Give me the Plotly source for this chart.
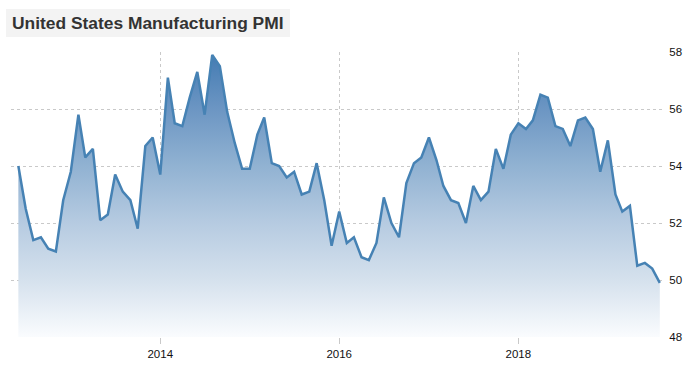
import pandas as pd
import plotly.graph_objects as go

# ---- data (monthly) ----
start_month = "2012-06-01"
pmi_values = [
    54.0, 52.5, 51.4, 51.5, 51.1, 51.0, 52.8,
    53.8, 55.8, 54.3, 54.6, 52.1, 52.3, 53.7, 53.1, 52.8, 51.8, 54.7, 55.0,
    53.7, 57.1, 55.5, 55.4, 56.4, 57.3, 55.8, 57.9, 57.5, 55.9, 54.8, 53.9,
    53.9, 55.1, 55.7, 54.1, 54.0, 53.6, 53.8, 53.0, 53.1, 54.1, 52.8, 51.2,
    52.4, 51.3, 51.5, 50.8, 50.7, 51.3, 52.9, 52.0, 51.5, 53.4, 54.1, 54.3,
    55.0, 54.2, 53.3, 52.8, 52.7, 52.0, 53.3, 52.8, 53.1, 54.6, 53.9, 55.1,
    55.5, 55.3, 55.6, 56.5, 56.4, 55.4, 55.3, 54.7, 55.6, 55.7, 55.3, 53.8,
    54.9, 53.0, 52.4, 52.6, 50.5, 50.6, 50.4, 49.9,
]
dates = pd.date_range(start_month, periods=len(pmi_values), freq="MS")
x_tick_vals = ["2014-01-01", "2016-01-01", "2018-01-01"]
x_tick_text = ["2014", "2016", "2018"]
y_tick_vals = [48, 50, 52, 54, 56, 58]
title_text = "United States Manufacturing PMI"

# ---- layout geometry ----
W, H = 693, 370
ML, MR, MT, MB = 11, 30, 52, 33
plot_w = W - ML - MR
plot_h = H - MT - MB

def px_x(px):
    return (px - ML) / plot_w

def px_y(py):
    return (H - MB - py) / plot_h

grid_col = "#c9c9c9"
line_col = "#4682b4"

fig = go.Figure()
fig.add_trace(go.Scatter(
    x=dates, y=pmi_values, mode="lines",
    line=dict(color=line_col, width=2.5),
    fill="tozeroy",
    fillgradient=dict(
        type="vertical", start=48, stop=58,
        colorscale=[[0.0, "rgba(250,252,254,1)"],
                    [0.2, "rgba(213,225,237,1)"],
                    [0.4, "rgba(182,203,225,1)"],
                    [0.6, "rgba(145,178,210,1)"],
                    [0.8, "rgba(108,150,195,1)"],
                    [1.0, "rgba(66,122,178,1)"]],
    ),
    hoverinfo="x+y",
))

fig.update_layout(
    width=W, height=H,
    margin=dict(l=ML, r=MR, t=MT, b=MB),
    paper_bgcolor="white", plot_bgcolor="white",
    showlegend=False,
    font=dict(family="Liberation Sans, Arial, sans-serif", size=11, color="#111"),
    xaxis=dict(
        type="date", range=["2012-05-02", "2019-08-14"],
        tickvals=x_tick_vals, ticktext=x_tick_text,
        showgrid=True, gridcolor=grid_col, griddash="dot", gridwidth=1,
        ticks="outside", ticklen=6, tickcolor=grid_col,
        showline=False, zeroline=False,
        tickfont=dict(size=11.5, color="#111"),
    ),
    yaxis=dict(
        range=[48, 58], side="right",
        tickvals=y_tick_vals,
        showgrid=True, gridcolor=grid_col, griddash="dot", gridwidth=1,
        ticks="outside", ticklen=3, tickcolor="rgba(0,0,0,0)",
        showline=False, zeroline=False,
        tickfont=dict(size=11.5, color="#111"),
    ),
    shapes=[dict(
        type="rect", xref="paper", yref="paper",
        x0=px_x(6), x1=px_x(290), y0=px_y(37), y1=px_y(9),
        fillcolor="#f3f3f3", line=dict(width=0), layer="below",
    )],
    annotations=[dict(
        text="<b>" + title_text + "</b>", xref="paper", yref="paper",
        x=px_x(10), y=px_y(23), xanchor="left", yanchor="middle",
        showarrow=False,
        font=dict(family="Liberation Sans, Arial, sans-serif", size=17.4, color="#333"),
    )],
)

fig.write_html("out.html", config={"displayModeBar": False},
               post_script="document.body.style.margin='0';")
